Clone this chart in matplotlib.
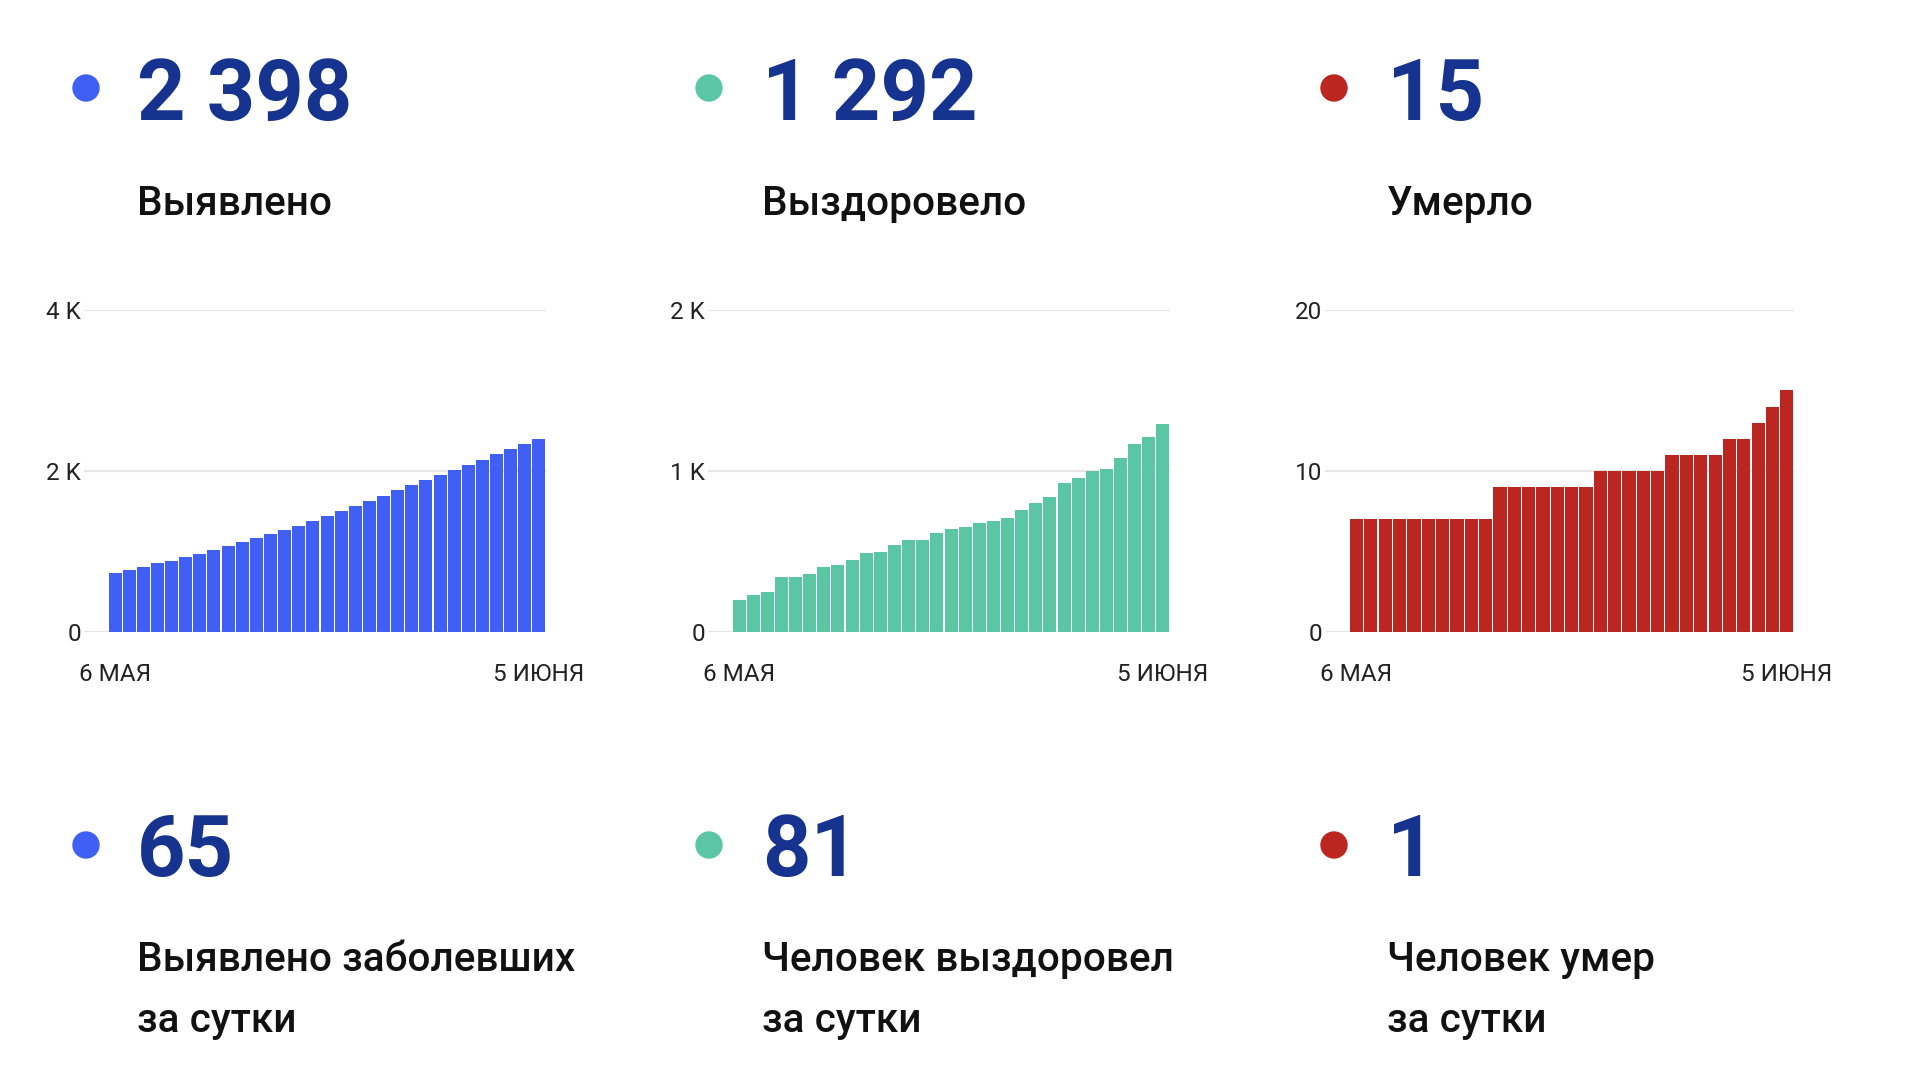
import numpy as np
import pandas as pd
import matplotlib
matplotlib.use("Agg")
import matplotlib.pyplot as plt
from matplotlib.patches import Ellipse

plt.rcParams['font.family'] = ['Roboto', 'DejaVu Sans']

# Данные: 6 мая - 5 июня
dates = pd.date_range('2020-05-06', '2020-06-05')
date_labels = ['6 МАЯ', '5 ИЮНЯ']

cases = [729, 771, 813, 854, 888, 929, 971, 1017, 1067, 1117,
         1167, 1213, 1267, 1317, 1375, 1438, 1504, 1567, 1629, 1692,
         1758, 1825, 1888, 1954, 2017, 2079, 2142, 2208, 2271, 2333, 2398]
recovered = [198, 229, 250, 340, 340, 360, 402, 415, 446, 492,
             498, 542, 569, 571, 613, 638, 652, 675, 688, 706,
             756, 800, 840, 923, 956, 1000, 1015, 1079, 1169, 1211, 1292]
deaths = [7, 7, 7, 7, 7, 7, 7, 7, 7, 7,
          9, 9, 9, 9, 9, 9, 9, 10, 10, 10,
          10, 10, 11, 11, 11, 11, 12, 12, 13, 14, 15]

totals = ['2 398', '1 292', '15']
total_labels = ['Выявлено', 'Выздоровело', 'Умерло']
daily = ['65', '81', '1']
daily_labels = ['Выявлено заболевших\nза сутки', 'Человек выздоровел\nза сутки', 'Человек умер\nза сутки']

yticks = [[0, 2000, 4000], [0, 1000, 2000], [0, 10, 20]]
yticklabels = [['0', '2 K', '4 K'], ['0', '1 K', '2 K'], ['0', '10', '20']]

colors = ['#405ff5', '#5bc6a3', '#bb2620']
num_color = '#16338f'

W, H = 1920, 1080
fig = plt.figure(figsize=(19.2, 10.8), dpi=100)
fig.patch.set_facecolor('white')


def fx(x):
    return x / W


def fy(y):
    return 1 - y / H


text_x = [137, 762, 1387]
dot_x = [86, 709, 1334]
# левый край сетки и правый край каждого графика (px)
ax_left = [84, 708, 1325]
ax_right = [546, 1170, 1794]
y_top, y_zero = 310, 632

series = [cases, recovered, deaths]
x = np.arange(len(dates))

for i in range(3):
    # верхний блок
    fig.add_artist(Ellipse((fx(dot_x[i]), fy(88)), 26 / W, 26 / H,
                           transform=fig.transFigure, color=colors[i]))
    fig.text(fx(text_x[i]), fy(120), totals[i], fontsize=61, fontweight='bold',
             color=num_color, va='baseline', ha='left')
    fig.text(fx(text_x[i]), fy(215), total_labels[i], fontsize=29.2, fontweight='medium',
             color='#111111', va='baseline', ha='left')

    # нижний блок
    fig.add_artist(Ellipse((fx(dot_x[i]), fy(845)), 26 / W, 26 / H,
                           transform=fig.transFigure, color=colors[i]))
    fig.text(fx(text_x[i]), fy(876), daily[i], fontsize=61, fontweight='bold',
             color=num_color, va='baseline', ha='left')
    line1, line2 = daily_labels[i].split('\n')
    fig.text(fx(text_x[i]), fy(971), line1, fontsize=29.2,
             fontweight='medium', color='#111111', va='baseline', ha='left')
    fig.text(fx(text_x[i]), fy(1032), line2, fontsize=29.2,
             fontweight='medium', color='#111111', va='baseline', ha='left')

    # график
    ax = fig.add_axes([fx(ax_left[i]), fy(y_zero), (ax_right[i] - ax_left[i]) / W,
                       (y_zero - y_top) / H])
    ax.bar(x, series[i], width=0.92, color=colors[i], zorder=3)
    ax.set_xlim(-0.5 - 1.7, len(x) - 0.5)
    ax.set_ylim(0, yticks[i][-1])
    ax.set_yticks(yticks[i])
    ax.set_yticklabels(yticklabels[i])
    ax.set_xticks([0, len(x) - 1])
    ax.set_xticklabels(date_labels)
    ax.yaxis.grid(True, color='#e6e6e6', linewidth=1.5, zorder=0)
    ax.set_axisbelow(True)
    for s in ax.spines.values():
        s.set_visible(False)
    ax.tick_params(axis='y', length=0, pad=2, labelsize=17.5, labelcolor='#222222')
    ax.tick_params(axis='x', length=0, pad=22, labelsize=17.5, labelcolor='#222222')

fig.savefig('out.png', dpi=100, facecolor='white')
